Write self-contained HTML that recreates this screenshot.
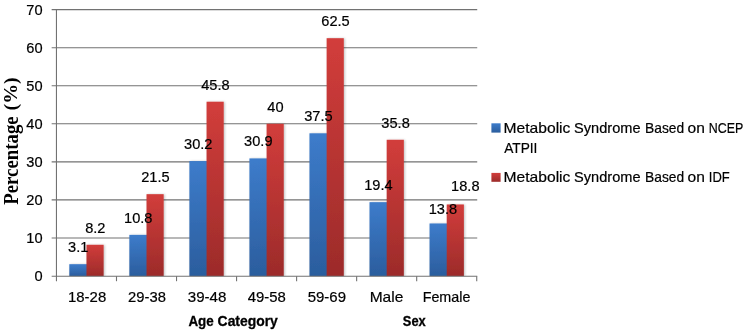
<!DOCTYPE html>
<html><head><meta charset="utf-8"><title>Chart</title>
<style>
html,body{margin:0;padding:0;background:#fff;}
svg{display:block;}
text{font-family:"Liberation Sans",sans-serif;fill:#000;}
.n{font-size:14.6px;stroke:#000;stroke-width:0.2px;}
.d{font-size:14.6px;stroke:#000;stroke-width:0.2px;}
.b{font-size:13.9px;font-weight:bold;stroke:#000;stroke-width:0.3px;}
.yl{font-family:"Liberation Serif",serif;font-weight:bold;font-size:20.5px;}
.yp{font-family:"Liberation Serif",serif;font-weight:bold;font-size:18.8px;}
</style></head><body>
<svg width="745" height="331" viewBox="0 0 745 331">
<defs>
<linearGradient id="gb" x1="0" y1="0" x2="0" y2="1"><stop offset="0" stop-color="#3d7ccb"/><stop offset="1" stop-color="#2b5d9d"/></linearGradient>
<linearGradient id="gr" x1="0" y1="0" x2="0" y2="1"><stop offset="0" stop-color="#d23d3b"/><stop offset="1" stop-color="#9c2b2a"/></linearGradient>
<filter id="sh" x="-20%" y="-5%" width="140%" height="110%"><feDropShadow dx="1.1" dy="0.2" stdDeviation="1.2" flood-color="#000" flood-opacity="0.24"/></filter>
<clipPath id="cp"><rect x="0" y="0" width="745" height="276.6"/></clipPath>
</defs>
<rect width="745" height="331" fill="#fff"/>

<line x1="51.65" y1="237.93" x2="477.23" y2="237.93" stroke="#727272" stroke-width="1.1"/>
<line x1="51.65" y1="199.88" x2="477.23" y2="199.88" stroke="#727272" stroke-width="1.1"/>
<line x1="51.65" y1="161.84" x2="477.23" y2="161.84" stroke="#727272" stroke-width="1.1"/>
<line x1="51.65" y1="123.79" x2="477.23" y2="123.79" stroke="#727272" stroke-width="1.1"/>
<line x1="51.65" y1="85.75" x2="477.23" y2="85.75" stroke="#727272" stroke-width="1.1"/>
<line x1="51.65" y1="47.70" x2="477.23" y2="47.70" stroke="#727272" stroke-width="1.1"/>
<line x1="51.65" y1="9.66" x2="477.23" y2="9.66" stroke="#727272" stroke-width="1.1"/>
<g clip-path="url(#cp)">
<g filter="url(#sh)">
<rect x="69.30" y="264.18" width="17.770000000000003" height="12.02" fill="url(#gb)"/>
<rect x="86.47" y="244.77" width="17.17" height="31.43" fill="url(#gr)"/>
</g>
<g filter="url(#sh)">
<rect x="129.34" y="234.88" width="17.770000000000003" height="41.32" fill="url(#gb)"/>
<rect x="146.51" y="194.17" width="17.17" height="82.03" fill="url(#gr)"/>
</g>
<g filter="url(#sh)">
<rect x="189.38" y="161.07" width="17.770000000000003" height="115.13" fill="url(#gb)"/>
<rect x="206.55" y="101.72" width="17.17" height="174.48" fill="url(#gr)"/>
</g>
<g filter="url(#sh)">
<rect x="249.42" y="158.41" width="17.770000000000003" height="117.79" fill="url(#gb)"/>
<rect x="266.59" y="123.79" width="17.17" height="152.41" fill="url(#gr)"/>
</g>
<g filter="url(#sh)">
<rect x="309.46" y="133.30" width="17.770000000000003" height="142.90" fill="url(#gb)"/>
<rect x="326.63" y="38.19" width="17.17" height="238.01" fill="url(#gr)"/>
</g>
<g filter="url(#sh)">
<rect x="369.50" y="202.16" width="17.770000000000003" height="74.04" fill="url(#gb)"/>
<rect x="386.67" y="139.77" width="17.17" height="136.43" fill="url(#gr)"/>
</g>
<g filter="url(#sh)">
<rect x="429.54" y="223.47" width="17.770000000000003" height="52.73" fill="url(#gb)"/>
<rect x="446.71" y="204.45" width="17.17" height="71.75" fill="url(#gr)"/>
</g>
</g>
<line x1="56.45" y1="9.16" x2="56.45" y2="281.20" stroke="#727272" stroke-width="1.1"/>
<line x1="51.65" y1="276.2" x2="477.23" y2="276.2" stroke="#727272" stroke-width="1.1"/>
<line x1="116.49" y1="276.2" x2="116.49" y2="281.20" stroke="#727272" stroke-width="1.1"/>
<line x1="176.53" y1="276.2" x2="176.53" y2="281.20" stroke="#727272" stroke-width="1.1"/>
<line x1="236.57" y1="276.2" x2="236.57" y2="281.20" stroke="#727272" stroke-width="1.1"/>
<line x1="296.61" y1="276.2" x2="296.61" y2="281.20" stroke="#727272" stroke-width="1.1"/>
<line x1="356.65" y1="276.2" x2="356.65" y2="281.20" stroke="#727272" stroke-width="1.1"/>
<line x1="416.69" y1="276.2" x2="416.69" y2="281.20" stroke="#727272" stroke-width="1.1"/>
<line x1="476.73" y1="276.2" x2="476.73" y2="281.20" stroke="#727272" stroke-width="1.1"/>
<text class="d" transform="translate(42.60,280.97) scale(1,1.065)" text-anchor="end">0</text>
<text class="d" transform="translate(42.60,242.93) scale(1,1.065)" text-anchor="end">10</text>
<text class="d" transform="translate(42.60,204.88) scale(1,1.065)" text-anchor="end">20</text>
<text class="d" transform="translate(42.60,166.84) scale(1,1.065)" text-anchor="end">30</text>
<text class="d" transform="translate(42.60,128.79) scale(1,1.065)" text-anchor="end">40</text>
<text class="d" transform="translate(42.60,90.75) scale(1,1.065)" text-anchor="end">50</text>
<text class="d" transform="translate(42.60,52.70) scale(1,1.065)" text-anchor="end">60</text>
<text class="d" transform="translate(42.60,14.66) scale(1,1.065)" text-anchor="end">70</text>
<text class="n" transform="translate(68.04,301.90) scale(1,1.065)" textLength="38.14" lengthAdjust="spacingAndGlyphs">18-28</text>
<text class="n" transform="translate(128.08,301.90) scale(1,1.065)" textLength="37.77" lengthAdjust="spacingAndGlyphs">29-38</text>
<text class="n" transform="translate(187.75,301.90) scale(1,1.065)" textLength="38.56" lengthAdjust="spacingAndGlyphs">39-48</text>
<text class="n" transform="translate(247.65,301.90) scale(1,1.065)" textLength="38.1" lengthAdjust="spacingAndGlyphs">49-58</text>
<text class="n" transform="translate(307.71,301.90) scale(1,1.065)" textLength="38.3" lengthAdjust="spacingAndGlyphs">59-69</text>
<text class="n" transform="translate(369.69,301.90) scale(1,1.065)" textLength="33.66" lengthAdjust="spacingAndGlyphs">Male</text>
<text class="n" transform="translate(422.65,301.90) scale(1,1.065)" textLength="47.79" lengthAdjust="spacingAndGlyphs">Female</text>
<text class="d" transform="translate(78.19,252.18) scale(1,1.065)" text-anchor="middle">3.1</text>
<text class="d" transform="translate(95.35,232.77) scale(1,1.065)" text-anchor="middle">8.2</text>
<text class="d" transform="translate(138.23,222.88) scale(1,1.065)" text-anchor="middle">10.8</text>
<text class="d" transform="translate(155.40,182.17) scale(1,1.065)" text-anchor="middle">21.5</text>
<text class="d" transform="translate(198.27,149.07) scale(1,1.065)" text-anchor="middle">30.2</text>
<text class="d" transform="translate(215.44,89.72) scale(1,1.065)" text-anchor="middle">45.8</text>
<text class="d" transform="translate(258.31,146.41) scale(1,1.065)" text-anchor="middle">30.9</text>
<text class="d" transform="translate(275.48,111.79) scale(1,1.065)" text-anchor="middle">40</text>
<text class="d" transform="translate(318.35,121.30) scale(1,1.065)" text-anchor="middle">37.5</text>
<text class="d" transform="translate(335.52,26.19) scale(1,1.065)" text-anchor="middle">62.5</text>
<text class="d" transform="translate(378.38,190.16) scale(1,1.065)" text-anchor="middle">19.4</text>
<text class="d" transform="translate(395.56,127.77) scale(1,1.065)" text-anchor="middle">35.8</text>
<text class="d" transform="translate(442.90,214.40) scale(1,1.065)" text-anchor="middle">13.8</text>
<text class="d" transform="translate(465.30,191.20) scale(1,1.065)" text-anchor="middle">18.8</text>
<g><text class="b" transform="translate(188.40,325.50) scale(1,1.002)" textLength="25.28" lengthAdjust="spacingAndGlyphs">Age</text> <text class="b" transform="translate(217.62,325.50) scale(1,1.002)" textLength="60.2" lengthAdjust="spacingAndGlyphs">Category</text></g>
<text class="b" transform="translate(402.86,325.60) scale(1,1.002)" textLength="22.91" lengthAdjust="spacingAndGlyphs">Sex</text>
<g transform="translate(17.8,304.5) rotate(-90)"><text class="yl" x="99.66" y="0" textLength="88.55" lengthAdjust="spacingAndGlyphs">Percentage</text> <text class="yp" x="193.99" y="-0.9" textLength="33.3" lengthAdjust="spacingAndGlyphs">(%)</text></g>
<rect x="491.4" y="123.3" width="9.2" height="9.3" fill="url(#gb)"/>
<rect x="491.4" y="172.9" width="9.2" height="8.9" fill="url(#gr)"/>
<g><text class="n" transform="translate(503.55,133.10) scale(1,1.065)" textLength="66.84" lengthAdjust="spacingAndGlyphs">Metabolic</text> <text class="n" transform="translate(574.08,133.10) scale(1,1.065)" textLength="66.47" lengthAdjust="spacingAndGlyphs">Syndrome</text> <text class="n" transform="translate(645.01,133.10) scale(1,1.065)" textLength="39.14" lengthAdjust="spacingAndGlyphs">Based</text> <text class="n" transform="translate(687.56,133.10) scale(1,1.065)" textLength="17.3" lengthAdjust="spacingAndGlyphs">on</text> <text class="n" transform="translate(708.87,133.10) scale(1,1.065)" textLength="34.48" lengthAdjust="spacingAndGlyphs">NCEP</text></g>
<text class="n" transform="translate(504.16,152.90) scale(1,1.065)" textLength="33.28" lengthAdjust="spacingAndGlyphs">ATPII</text>
<g><text class="n" transform="translate(503.55,181.80) scale(1,1.065)" textLength="66.84" lengthAdjust="spacingAndGlyphs">Metabolic</text> <text class="n" transform="translate(574.08,181.80) scale(1,1.065)" textLength="66.47" lengthAdjust="spacingAndGlyphs">Syndrome</text> <text class="n" transform="translate(645.01,181.80) scale(1,1.065)" textLength="39.14" lengthAdjust="spacingAndGlyphs">Based</text> <text class="n" transform="translate(687.56,181.80) scale(1,1.065)" textLength="17.3" lengthAdjust="spacingAndGlyphs">on</text> <text class="n" transform="translate(708.87,181.80) scale(1,1.065)" textLength="20.93" lengthAdjust="spacingAndGlyphs">IDF</text></g>
</svg>
</body></html>
